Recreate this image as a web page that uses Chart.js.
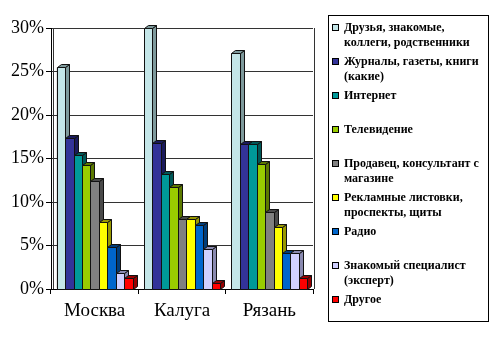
<!DOCTYPE html>
<html lang="ru">
<head>
<meta charset="utf-8">
<script src="https://cdn.jsdelivr.net/npm/chart.js@4.4.1/dist/chart.umd.min.js"></script>
<style>
    html, body { margin: 0; padding: 0; background: #fff; }
    #contenedor { position: relative; width: 500px; height: 340px; }
    #grafico { position: absolute; left: 0; top: 0; }
    #leyenda {
        position: absolute; left: 328px; top: 15px;
        width: 161px; height: 307px; box-sizing: border-box;
        border: 1px solid #000; padding-top: 4px; overflow: hidden;
        font: bold 12px "Liberation Serif", "Times New Roman", serif; color: #000;
    }
    .item { position: relative; height: 34px; padding-left: 15px; line-height: 15px; white-space: nowrap; }
    .marca { position: absolute; left: 3px; top: 4px; width: 5px; height: 5px; border: 1px solid #000; }
</style>
</head>
<body>
<div id="contenedor">
    <canvas id="grafico" width="500" height="340"></canvas>
    <div id="leyenda"></div>
</div>
<script>
// SECCIÓN 1: DATOS (porcentajes por ciudad)

const ciudades = ['Москва', 'Калуга', 'Рязань'];

const amigos       = [25.5, 30.0, 27.1];
const revistas     = [17.3, 16.8, 16.7];
const internet     = [15.4, 13.2, 16.7];
const television   = [14.3, 11.7, 14.4];
const vendedor     = [12.4, 8.0, 8.8];
const publicidad   = [7.7, 8.0, 7.1];
const radio        = [4.8, 7.3, 4.1];
const especialista = [1.8, 4.6, 4.1];
const otro         = [1.3, 0.7, 1.3];

const nombresSeries = [
    ['Друзья, знакомые,', 'коллеги, родственники'],
    ['Журналы, газеты, книги', '(какие)'],
    ['Интернет'],
    ['Телевидение'],
    ['Продавец, консультант с', 'магазине'],
    ['Рекламные листовки,', 'проспекты, щиты'],
    ['Радио'],
    ['Знакомый специалист', '(эксперт)'],
    ['Другое']
];

const ticksEje = [0, 5, 10, 15, 20, 25, 30];

// SECCIÓN 2: COLORES (frente y caras laterales)

const coloresFrente = ['#C4E6E8', '#333399', '#009999', '#99CC00', '#808080', '#FFFF00', '#0066CC', '#D0D0FF', '#FF0000'];
const coloresLado   = ['#7E9A9C', '#1A1A5C', '#005858', '#5C7A00', '#4A4A4A', '#999900', '#003D7A', '#8A8AB0', '#990000'];

const series = [amigos, revistas, internet, television, vendedor, publicidad, radio, especialista, otro];

// SECCIÓN 3: EFECTO 3D DE LAS BARRAS

const profundidad = { dx: 4, dy: 3 };

function poligono(ctx, puntos, relleno) {
    ctx.beginPath();
    ctx.moveTo(puntos[0][0], puntos[0][1]);
    for (let i = 1; i < puntos.length; i++) ctx.lineTo(puntos[i][0], puntos[i][1]);
    ctx.closePath();
    ctx.fillStyle = relleno;
    ctx.fill();
    ctx.stroke();
}

const caras3D = {
    id: 'caras3D',
    afterDatasetsDraw(chart) {
        const ctx = chart.ctx;
        const { dx, dy } = profundidad;
        ctx.save();
        ctx.strokeStyle = '#111';
        ctx.lineWidth = 1;
        // por ciudad, serie a serie de izquierda a derecha para que cada barra tape el lado de la anterior
        for (let c = 0; c < ciudades.length; c++) {
            chart.data.datasets.forEach((ds, i) => {
                const barra = chart.getDatasetMeta(i).data[c];
                const p = barra.getProps(['x', 'y', 'base', 'width'], true);
                const izq = Math.round(p.x - p.width / 2) + 0.5;
                const der = Math.round(p.x + p.width / 2) + 0.5;
                const arriba = Math.round(p.y) + 0.5;
                const abajo = Math.round(p.base) + 0.5;
                // cara lateral
                poligono(ctx, [[der, arriba], [der + dx, arriba - dy], [der + dx, abajo - dy], [der, abajo]], coloresLado[i]);
                // cara superior
                poligono(ctx, [[izq, arriba], [izq + dx, arriba - dy], [der + dx, arriba - dy], [der, arriba]], coloresLado[i]);
                // frente
                poligono(ctx, [[izq, arriba], [der, arriba], [der, abajo], [izq, abajo]], coloresFrente[i]);
            });
        }
        ctx.restore();
    }
};

// bordes de la pared del fondo (izquierda desplazada y derecha)
const paredFondo = {
    id: 'paredFondo',
    beforeDatasetsDraw(chart) {
        const { ctx, chartArea } = chart;
        ctx.save();
        ctx.strokeStyle = '#333';
        ctx.lineWidth = 1;
        ctx.beginPath();
        ctx.moveTo(Math.round(chartArea.right) + 1.5, chartArea.top);
        ctx.lineTo(Math.round(chartArea.right) + 1.5, chartArea.bottom);
        ctx.moveTo(Math.round(chartArea.left) + 2.5, chartArea.top);
        ctx.lineTo(Math.round(chartArea.left) + 2.5, chartArea.bottom);
        ctx.stroke();
        ctx.restore();
    }
};

// SECCIÓN 4: GRÁFICO

const fuenteSerif = '"Liberation Serif", "Times New Roman", serif';

new Chart(document.getElementById('grafico'), {
    type: 'bar',
    data: {
        labels: ciudades,
        datasets: series.map((valores, i) => ({
            label: nombresSeries[i].join(' '),
            data: valores,
            backgroundColor: coloresFrente[i],
            borderColor: '#111',
            borderWidth: 1,
            categoryPercentage: 0.87,
            barPercentage: 1.0
        }))
    },
    options: {
        responsive: false,
        animation: false,
        layout: { padding: { top: 28, right: 187, left: 0, bottom: 0 } },
        plugins: {
            legend: { display: false },
            tooltip: { enabled: false }
        },
        scales: {
            y: {
                min: 0,
                max: 30,
                afterFit: (escala) => { escala.width = 51; },
                afterBuildTicks: (escala) => { escala.ticks = ticksEje.map(v => ({ value: v })); },
                ticks: {
                    color: '#000',
                    padding: 2,
                    font: { family: fuenteSerif, size: 18 },
                    callback: (valor) => valor + '%'
                },
                grid: { color: '#333', lineWidth: 1, tickLength: 5, tickColor: '#000' },
                border: { color: '#000', width: 1 }
            },
            x: {
                afterFit: (escala) => { escala.height = 51; },
                ticks: {
                    color: '#000',
                    padding: 6,
                    font: { family: fuenteSerif, size: 19 }
                },
                grid: { offset: true, drawOnChartArea: false, tickLength: 5, color: '#000' },
                border: { color: '#000', width: 1 }
            }
        }
    },
    plugins: [paredFondo, caras3D]
});

// SECCIÓN 5: LEYENDA

const leyenda = document.getElementById('leyenda');
nombresSeries.forEach((lineas, i) => {
    const item = document.createElement('div');
    item.className = 'item';
    const marca = document.createElement('span');
    marca.className = 'marca';
    marca.style.background = coloresFrente[i];
    item.appendChild(marca);
    lineas.forEach((texto, j) => {
        if (j > 0) item.appendChild(document.createElement('br'));
        item.appendChild(document.createTextNode(texto));
    });
    leyenda.appendChild(item);
});
</script>
</body>
</html>
